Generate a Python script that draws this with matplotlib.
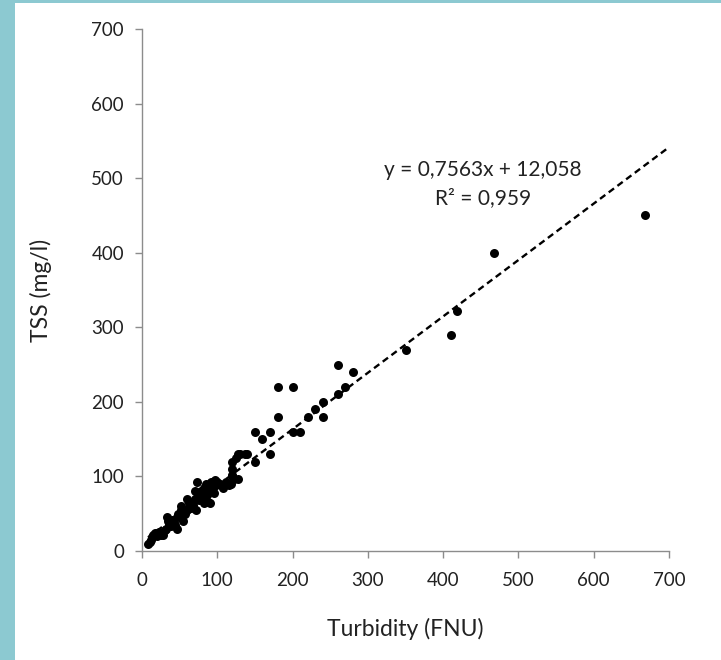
import matplotlib
matplotlib.use("Agg")
import matplotlib.pyplot as plt
from matplotlib.patches import Rectangle
import numpy as np

plt.rcParams['font.family'] = ['Lato', 'DejaVu Sans']

# Data: turbidity (FNU) vs TSS (mg/l)
turbidity = [
    668, 468, 418, 410, 350, 280, 270, 260, 260, 240, 230, 220, 240,
    180, 200, 180, 200, 210, 150, 170, 160, 170, 150, 140, 130, 120,
    125, 120, 120, 128, 110, 118, 137,
    8, 10, 12, 13, 15, 17, 20, 22, 25, 28, 30, 32, 33, 35, 36, 38, 40,
    42, 44, 46, 46, 48, 50, 52, 52, 54, 55, 57, 60, 60, 62, 64, 65, 68,
    70, 70, 72, 73, 75, 76, 78, 80, 82, 83, 85, 86, 87, 88, 90, 90, 92,
    94, 95, 96, 97, 98, 100, 103, 105, 108, 112, 115, 119, 122, 128,
]
tss = [
    450, 400, 322, 290, 270, 240, 220, 250, 210, 200, 190, 180, 180,
    220, 220, 180, 160, 160, 160, 160, 150, 130, 120, 130, 130, 120,
    125, 110, 100, 97, 90, 90, 130,
    10, 12, 15, 19, 22, 24, 20, 25, 22, 22, 28, 30, 45, 40, 35, 33, 42,
    38, 35, 30, 46, 50, 45, 55, 60, 40, 52, 50, 55, 70, 65, 60, 58, 62,
    70, 80, 55, 93, 75, 68, 80, 72, 65, 85, 90, 82, 75, 66, 65, 80, 93,
    85, 92, 78, 95, 88, 92, 90, 88, 84, 93, 88, 102, 97, 130,
]

slope = 0.7563
intercept = 12.058
r2_text = "0,959"
eq_text = "y = 0,7563x + 12,058"

x_ticks = [0, 100, 200, 300, 400, 500, 600, 700]
y_ticks = [0, 100, 200, 300, 400, 500, 600, 700]

fig = plt.figure(figsize=(7.21, 6.60), dpi=100)
fig.patch.set_facecolor('white')
border = '#8cc9d1'
fig.patches.append(Rectangle((0, 0), 15 / 721, 1, transform=fig.transFigure,
                             facecolor=border, edgecolor='none', zorder=0))
fig.patches.append(Rectangle((0, 1 - 3 / 660), 1, 3 / 660, transform=fig.transFigure,
                             facecolor=border, edgecolor='none', zorder=0))

ax = fig.add_axes([142 / 721, 1 - 551 / 660, (669 - 142) / 721, (551 - 29) / 660])

ax.scatter(turbidity, tss, s=42, color='black', zorder=3, linewidths=0)

xl = np.array([min(turbidity), 700])
ax.plot(xl, slope * xl + intercept, color='black', linestyle=(0, (2.8, 1.8)),
        linewidth=1.7, zorder=2)

ax.set_xlim(0, 700)
ax.set_ylim(0, 700)
ax.set_xticks(x_ticks)
ax.set_yticks(y_ticks)
ax.tick_params(direction='out', length=5, color='#8c8c8c', width=1,
               labelsize=13.5, labelcolor='#222222')
ax.tick_params(axis='x', pad=10)
ax.tick_params(axis='y', pad=8)
for side in ['top', 'right']:
    ax.spines[side].set_visible(False)
for side in ['left', 'bottom']:
    ax.spines[side].set_color('#8c8c8c')
    ax.spines[side].set_linewidth(1)

ax.set_xlabel('Turbidity (FNU)', fontsize=16.5, color='#222222', labelpad=21)
ax.set_ylabel('TSS (mg/l)', fontsize=16.5, color='#222222', labelpad=28)

ax.text(453, 511, eq_text, fontsize=15, color='#222222', ha='center', va='center')
ax.text(453, 473, "R² = " + r2_text, fontsize=15, color='#222222', ha='center', va='center')

fig.savefig('out.png', dpi=100, facecolor='white')
